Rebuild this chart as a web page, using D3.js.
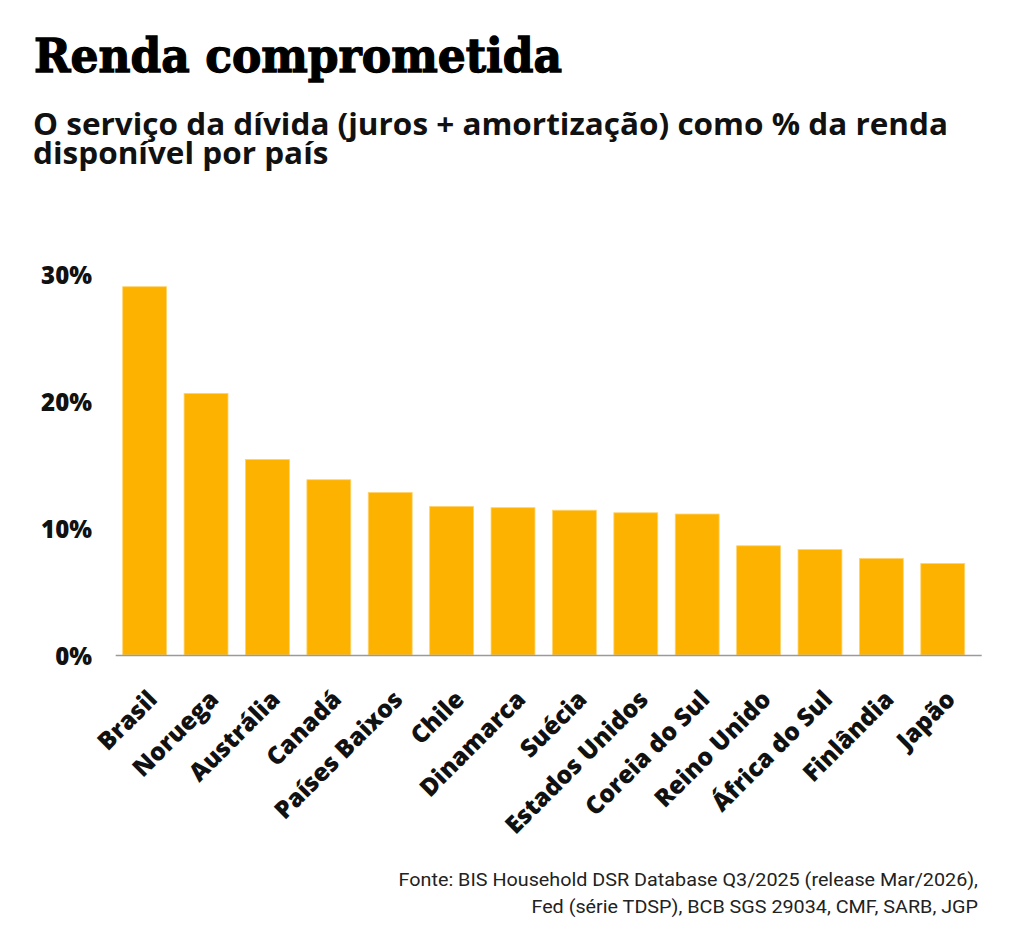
<!DOCTYPE html>
<html>
<head>
<meta charset="utf-8">
<title>Renda comprometida</title>
<script src="https://d3js.org/d3.v7.min.js"></script>
<style>
  body { margin: 0; background: #fff; }
  svg { display: block; }
  .title { font-family: "DejaVu Serif", serif; font-weight: bold; fill: #000; stroke: #000; stroke-width: 1.3px; }
  .subtitle { font-family: "Open Sans", sans-serif; font-weight: 700; fill: #111; }
  .tick-label { font-family: "Open Sans", sans-serif; font-weight: 800; fill: #111; }
  .cat-label { font-family: "Open Sans", sans-serif; font-weight: 800; fill: #111; }
  .source { font-family: "Roboto", sans-serif; font-weight: 400; fill: #222; }
</style>
</head>
<body>
<div id="chart"></div>
<script>
// data
var countries = ["Brasil", "Noruega", "Austrália", "Canadá", "Países Baixos", "Chile", "Dinamarca",
                 "Suécia", "Estados Unidos", "Coreia do Sul", "Reino Unido", "África do Sul", "Finlândia", "Japão"];
var dsr = [29.0, 20.6, 15.4, 13.8, 12.8, 11.7, 11.6, 11.4, 11.2, 11.1, 8.6, 8.3, 7.6, 7.2];
var yTicks = [0, 10, 20, 30];
var subtitleLines = ["O serviço da dívida (juros + amortização) como % da renda", "disponível por país"];
var sourceLines = ["Fonte: BIS Household DSR Database Q3/2025 (release Mar/2026),",
                   "Fed (série TDSP), BCB SGS 29034, CMF, SARB, JGP"];

var width = 1024, height = 952;

var svg = d3.select("#chart").append("svg")
    .attr("width", width)
    .attr("height", height);

// title
svg.append("text")
    .attr("class", "title")
    .attr("x", 34)
    .attr("y", 72)
    .style("font-size", "47px")
    .attr("textLength", 528)
    .attr("lengthAdjust", "spacingAndGlyphs")
    .text("Renda comprometida");

// subtitle, squeezed horizontally to match the condensed face
var sub = svg.append("g").attr("class", "subtitle");
var subText = sub.selectAll("text")
    .data(subtitleLines)
    .join("text")
    .attr("x", 0)
    .attr("y", function (d, i) { return 135 + i * 29; })
    .style("font-size", "31px")
    .text(function (d) { return d; });
var sw = subText.nodes()[0].getComputedTextLength();
sub.attr("transform", "translate(33,0) scale(" + (915 / sw) + ",1)");

// scales
var x = d3.scaleBand()
    .domain(countries)
    .range([122.7, 964.7])
    .paddingInner(0.285)
    .paddingOuter(0);

var y = d3.scaleLinear()
    .domain([0, 30])
    .range([655, 274]);

// bars
svg.append("g")
    .selectAll("rect")
    .data(dsr)
    .join("rect")
    .attr("x", function (d, i) { return x(countries[i]); })
    .attr("y", function (d) { return y(d); })
    .attr("width", x.bandwidth())
    .attr("height", function (d) { return y(0) - y(d); })
    .attr("fill", "#feb200")
    .attr("stroke", "#ffd36e")
    .attr("stroke-width", 0.8);

// baseline
svg.append("line")
    .attr("x1", 115.7)
    .attr("x2", 981.7)
    .attr("y1", y(0) + 0.5)
    .attr("y2", y(0) + 0.5)
    .attr("stroke", "#9a9a9a")
    .attr("stroke-width", 1.6);

// y axis labels
var yAxis = d3.axisLeft(y)
    .tickValues(yTicks)
    .tickSize(0)
    .tickPadding(0)
    .tickFormat(function (d) { return d + "%"; });

var yg = svg.append("g")
    .attr("transform", "translate(92,1)")
    .call(yAxis);
yg.select(".domain").remove();
yg.selectAll("text")
    .attr("class", "tick-label")
    .attr("dy", "0.36em")
    .attr("font-family", null)
    .style("font-size", "24px");

// x axis labels rotated
var xAxis = d3.axisBottom(x).tickSize(0).tickPadding(0);
var xg = svg.append("g")
    .attr("transform", "translate(0," + y(0) + ")")
    .call(xAxis);
xg.select(".domain").remove();
xg.selectAll("text")
    .attr("class", "cat-label")
    .attr("font-family", null)
    .style("font-size", "24.5px")
    .style("text-anchor", "end")
    .attr("x", 0)
    .attr("y", 0)
    .attr("dy", 0)
    .attr("transform", "translate(14,46) rotate(-45)");

// source
var src = svg.append("g").attr("class", "source");
var srcText = src.selectAll("text")
    .data(sourceLines)
    .join("text")
    .attr("x", 0)
    .attr("y", function (d, i) { return 886 + i * 27; })
    .style("font-size", "18px")
    .style("text-anchor", "end")
    .text(function (d) { return d; });
var srw = srcText.nodes()[0].getComputedTextLength();
src.attr("transform", "translate(978,0) scale(" + (580 / srw) + ",1)");
</script>
</body>
</html>
